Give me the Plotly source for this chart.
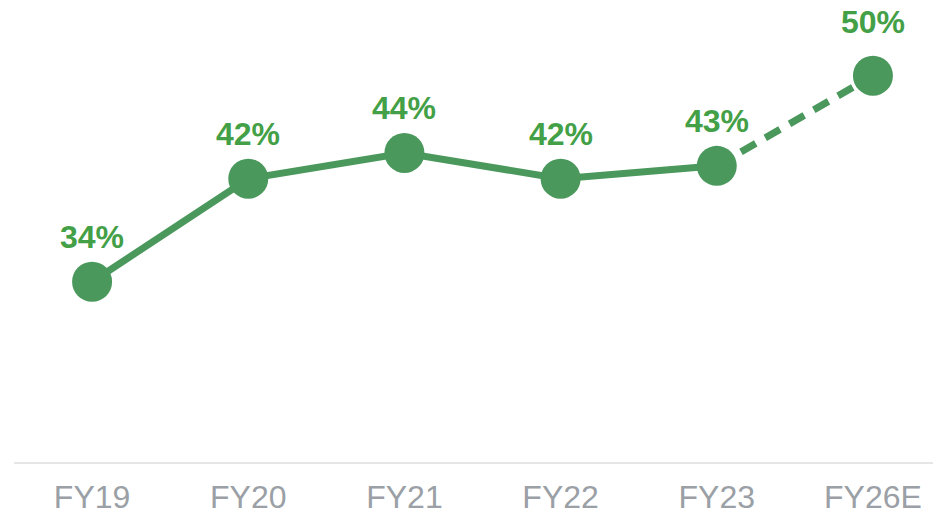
import plotly.graph_objects as go

years = ["FY19", "FY20", "FY21", "FY22", "FY23", "FY26E"]
margin_pct = [34, 42, 44, 42, 43, 50]
labels = ["34%", "42%", "44%", "42%", "43%", "50%"]

line_green = "#4a985c"
label_green = "#43a047"

fig = go.Figure()

# actuals, solid
fig.add_trace(
    go.Scatter(
        x=years[:5],
        y=margin_pct[:5],
        mode="lines",
        line=dict(color=line_green, width=7),
        hoverinfo="skip",
    )
)
# estimate, dashed
fig.add_trace(
    go.Scatter(
        x=years[4:],
        y=margin_pct[4:],
        mode="lines",
        line=dict(color=line_green, width=7, dash="17px,11px"),
        hoverinfo="skip",
    )
)
# markers on top
fig.add_trace(
    go.Scatter(
        x=years,
        y=margin_pct,
        mode="markers",
        marker=dict(color=line_green, size=40, line=dict(width=0)),
    )
)

# value labels, the estimate sits a bit higher
for i, (yr, val, txt) in enumerate(zip(years, margin_pct, labels)):
    fig.add_annotation(
        x=yr,
        y=val,
        text=txt,
        showarrow=False,
        yshift=54 if i == len(years) - 1 else 45,
        font=dict(family="Arial, Liberation Sans", size=32, color=label_green, weight="bold"),
    )

fig.update_xaxes(
    type="category",
    range=[-0.5, 5.487],
    showgrid=False,
    showline=True,
    linecolor="#e6e6e6",
    linewidth=2,
    ticks="",
    ticklabelstandoff=6,
    tickfont=dict(family="Arial, Liberation Sans", size=32, color="#9aa0a6"),
    automargin=False,
)
fig.update_yaxes(
    range=[20, 55.26],
    visible=False,
    showgrid=False,
    zeroline=False,
)
fig.update_layout(
    width=941,
    height=512,
    margin=dict(l=6, r=0, t=0, b=58),
    plot_bgcolor="white",
    paper_bgcolor="white",
    showlegend=False,
)

fig.write_html("out.html")
